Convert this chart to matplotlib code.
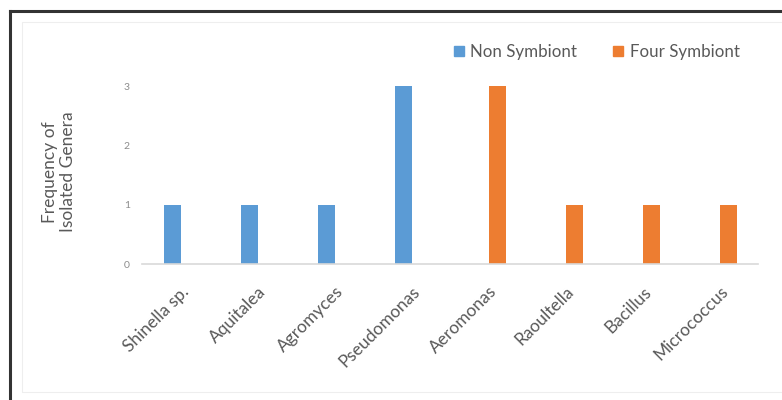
import numpy as np
import matplotlib.pyplot as plt
from matplotlib.patches import Rectangle
from matplotlib.lines import Line2D

plt.rcParams['font.family'] = ['Lato', 'DejaVu Sans']

# Genera and counts per group
genera = ['Shinella sp.', 'Aquitalea', 'Agromyces', 'Pseudomonas',
          'Aeromonas', 'Raoultella', 'Bacillus', 'Micrococcus']
non_symbiont = [1, 1, 1, 3, 0, 0, 0, 0]
four_symbiont = [0, 0, 0, 0, 3, 1, 1, 1]
y_ticks = [0, 1, 2, 3]

blue = '#5B9BD5'
orange = '#ED7D31'
grey_text = '#595959'

fig = plt.figure(figsize=(7.82, 4.0), dpi=100)
ax = fig.add_axes([0.1822, 0.34, 0.7877, 0.445])

x = np.arange(len(genera))
w = 0.22
ax.bar(x - w / 2, non_symbiont, w, color=blue, label='Non Symbiont')
ax.bar(x + w / 2, four_symbiont, w, color=orange, label='Four Symbiont')

ax.set_xlim(-0.5, len(genera) - 0.5)
ax.set_ylim(0, 3)
ax.set_yticks(y_ticks)
ax.set_yticklabels([str(t) for t in y_ticks], fontsize=7.5, color='#8c8c8c')
ax.set_xticks(x)
ax.set_xticklabels(genera, rotation=45, ha='right', rotation_mode='anchor',
                   fontsize=12.5, color=grey_text)
ax.tick_params(axis='both', length=0)
ax.tick_params(axis='y', pad=9)
ax.tick_params(axis='x', pad=14)
for s in ['top', 'right', 'left']:
    ax.spines[s].set_visible(False)
ax.spines['bottom'].set_color('#d9d9d9')
ax.spines['bottom'].set_linewidth(1.2)

fig.text(0.075, 0.57, 'Frequency of\nIsolated Genera', rotation=90,
         ha='center', va='center', fontsize=12.5, color=grey_text,
         multialignment='center', linespacing=1.15)

handles = [
    Line2D([0], [0], marker='s', color='w', markerfacecolor=blue,
           markeredgecolor=blue, markersize=7, label='Non Symbiont'),
    Line2D([0], [0], marker='s', color='w', markerfacecolor=orange,
           markeredgecolor=orange, markersize=7, label='Four Symbiont'),
]
leg = fig.legend(handles=handles, loc='center', bbox_to_anchor=(0.762, 0.87),
                 ncol=2, frameon=False, fontsize=12.2, handlelength=0.8,
                 handletextpad=0.3, columnspacing=2.0)
for t in leg.get_texts():
    t.set_color(grey_text)

# chart area outline
fig.add_artist(Rectangle((22 / 782, 8 / 400), 1.0, 1 - 8 / 400 - 22 / 400,
                         transform=fig.transFigure, fill=False,
                         edgecolor='#eeeeee', linewidth=0.8))
# outer frame, left and top edges
top = 1 - 10.5 / 400
left = 9.5 / 782
fig.add_artist(Line2D([left, 1.02], [top, top], transform=fig.transFigure,
                      color='#333333', linewidth=2.2, zorder=10))
fig.add_artist(Line2D([left, left], [-0.02, top], transform=fig.transFigure,
                      color='#333333', linewidth=2.2, zorder=10))

fig.savefig('out.png', dpi=100)
